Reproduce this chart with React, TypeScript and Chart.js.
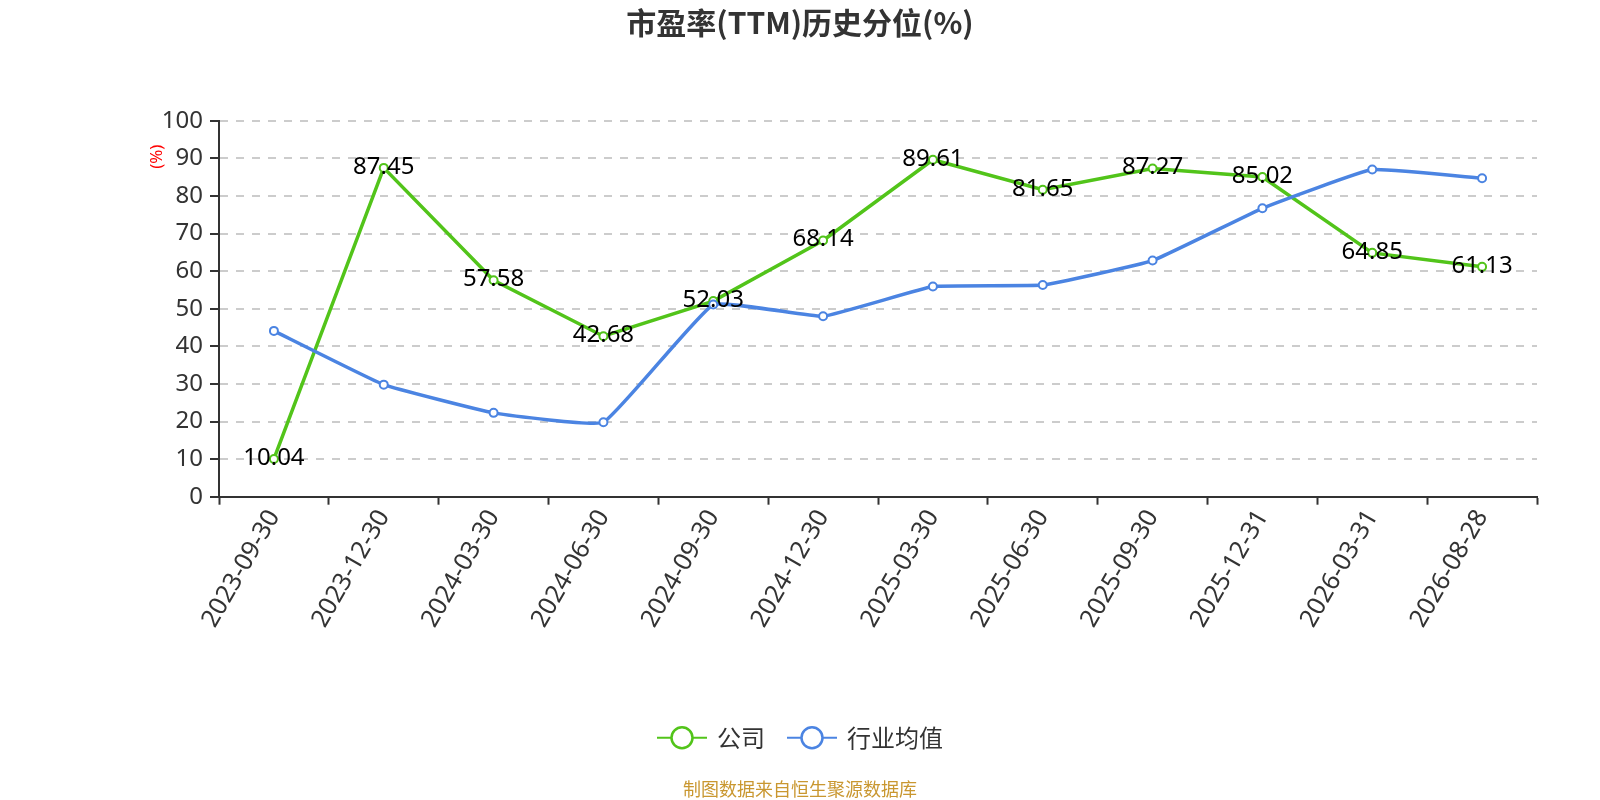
import React, { useEffect, useRef } from 'react';
import { Chart, registerables } from 'chart.js';

Chart.register(...registerables);

const titleText = '市盈率(TTM)历史分位(%)';
const yAxisName = '(%)';
const footerText = '制图数据来自恒生聚源数据库';
const seriesNames = ['公司', '行业均值'];
const seriesColors = ['#52c41a', '#4b84e2'];

const categories = [
  '2023-09-30', '2023-12-30', '2024-03-30', '2024-06-30', '2024-09-30', '2024-12-30',
  '2025-03-30', '2025-06-30', '2025-09-30', '2025-12-31', '2026-03-31', '2026-08-28',
];
const companyValues = [10.04, 87.45, 57.58, 42.68, 52.03, 68.14, 89.61, 81.65, 87.27, 85.02, 64.85, 61.13];
const industryValues = [44.1, 29.8, 22.3, 19.8, 51.1, 48.0, 55.9, 56.3, 62.8, 76.7, 87.0, 84.7];
const yTickValues = [0, 10, 20, 30, 40, 50, 60, 70, 80, 90, 100];

const overlayPlugin = {
  id: 'overlay',
  afterDatasetsDraw(chart: any) {
    const ctx = chart.ctx;
    const meta = chart.getDatasetMeta(0);
    ctx.save();
    ctx.font = '24px "Noto Sans", sans-serif';
    ctx.fillStyle = '#000';
    ctx.textAlign = 'center';
    ctx.textBaseline = 'middle';
    meta.data.forEach((pt: any, i: number) => {
      ctx.fillText(companyValues[i].toFixed(2), pt.x, pt.y - 1);
    });
    ctx.restore();
  },
  afterDraw(chart: any) {
    const { ctx, chartArea } = chart;
    // y axis name
    ctx.save();
    ctx.translate(chartArea.left - 62, chartArea.top + 36);
    ctx.rotate(-Math.PI / 2);
    ctx.font = '17px "Noto Sans", sans-serif';
    ctx.fillStyle = '#ff0000';
    ctx.textAlign = 'center';
    ctx.textBaseline = 'middle';
    ctx.fillText(yAxisName, 0, 0);
    ctx.restore();

    // legend
    ctx.save();
    ctx.font = '24px "Noto Sans CJK SC", sans-serif';
    const symW = 50;
    const gapText = 10;
    const itemGap = 22;
    const widths = seriesNames.map((n) => symW + gapText + ctx.measureText(n).width);
    const total = widths.reduce((a, b) => a + b, 0) + itemGap * (widths.length - 1);
    let x = chart.width / 2 - total / 2;
    const y = 737.7;
    seriesNames.forEach((name, i) => {
      const color = chart.data.datasets[i].borderColor;
      ctx.strokeStyle = color;
      ctx.lineWidth = 2;
      ctx.beginPath();
      ctx.moveTo(x, y);
      ctx.lineTo(x + symW, y);
      ctx.stroke();
      ctx.beginPath();
      ctx.arc(x + symW / 2, y, 10.5, 0, Math.PI * 2);
      ctx.fillStyle = '#fff';
      ctx.fill();
      ctx.lineWidth = 2.5;
      ctx.stroke();
      ctx.fillStyle = '#333';
      ctx.textAlign = 'left';
      ctx.textBaseline = 'middle';
      ctx.fillText(name, x + symW + gapText, y);
      x += widths[i] + itemGap;
    });
    ctx.restore();

    // footer
    ctx.save();
    ctx.font = '18px "Noto Sans CJK SC", sans-serif';
    ctx.fillStyle = '#c99730';
    ctx.textAlign = 'center';
    ctx.textBaseline = 'middle';
    ctx.fillText(footerText, chart.width / 2, 789);
    ctx.restore();
  },
};

export default function App() {
  const canvasRef = useRef<HTMLCanvasElement | null>(null);

  useEffect(() => {
    document.body.style.margin = '0';
    document.body.style.overflow = 'hidden';
    const canvas = canvasRef.current;
    if (!canvas) return;
    const chart = new Chart(canvas, {
      type: 'line',
      data: {
        labels: categories,
        datasets: [
          {
            label: seriesNames[0],
            data: companyValues,
            borderColor: seriesColors[0],
            backgroundColor: seriesColors[0],
            borderWidth: 3.5,
            pointRadius: 4,
            pointBackgroundColor: '#fff',
            pointBorderColor: seriesColors[0],
            pointBorderWidth: 2,
            tension: 0,
            order: 1,
          },
          {
            label: seriesNames[1],
            data: industryValues,
            borderColor: seriesColors[1],
            backgroundColor: seriesColors[1],
            borderWidth: 3.5,
            pointRadius: 4,
            pointBackgroundColor: '#fff',
            pointBorderColor: seriesColors[1],
            pointBorderWidth: 2,
            tension: 0.1,
            order: 0,
          },
        ],
      },
      options: {
        animation: false,
        responsive: true,
        maintainAspectRatio: false,
        layout: { padding: { left: 63, right: 63, top: 0, bottom: 103.3 } },
        plugins: {
          legend: { display: false },
          tooltip: { enabled: false },
          title: {
            display: true,
            text: titleText,
            color: '#333',
            font: { family: '"Noto Sans CJK SC", sans-serif', size: 30, weight: 'bold', lineHeight: 1 },
            padding: { top: 7.5, bottom: 83.2 },
          },
        },
        scales: {
          x: {
            type: 'category',
            offset: true,
            afterFit: (scale: any) => { scale.height = 200; },
            grid: {
              display: true,
              drawOnChartArea: false,
              drawTicks: true,
              tickLength: 8,
              tickColor: '#333',
              tickWidth: 2,
              offset: true,
            },
            border: { display: true, color: '#333', width: 2 },
            ticks: {
              color: '#333',
              font: { family: '"Noto Sans", sans-serif', size: 25 },
              minRotation: 60,
              maxRotation: 60,
              autoSkip: false,
              padding: 0,
            },
          },
          y: {
            min: 0,
            max: 100,
            afterFit: (scale: any) => { scale.width = 156; },
            afterBuildTicks: (scale: any) => {
              scale.ticks = yTickValues.map((v) => ({ value: v }));
            },
            grid: {
              color: '#cccccc',
              lineWidth: 2,
              drawTicks: true,
              tickLength: 9,
              tickColor: '#333',
              tickWidth: 2,
              tickBorderDash: [],
            },
            border: { display: true, color: '#333', width: 2, dash: [8, 8] },
            ticks: {
              color: '#333',
              font: { family: '"Noto Sans", sans-serif', size: 24 },
              padding: 7,
            },
          },
        },
      },
      plugins: [overlayPlugin],
    } as any);
    return () => chart.destroy();
  }, []);

  return (
    <div style={{ width: 1600, height: 800, position: 'relative' }}>
      <canvas ref={canvasRef} />
    </div>
  );
}
